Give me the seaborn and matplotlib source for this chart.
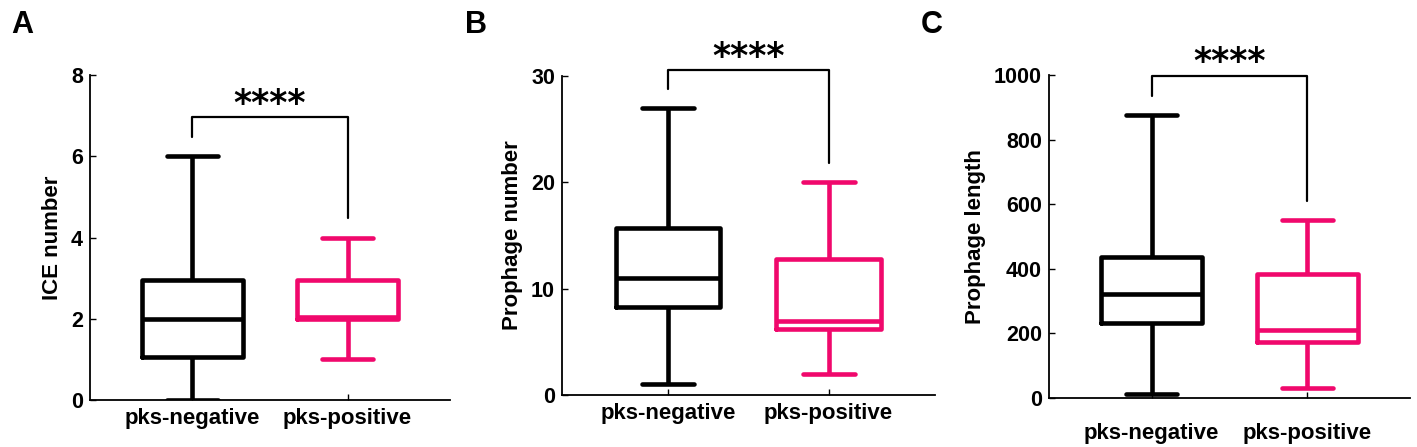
import pandas as pd
import seaborn as sns
import matplotlib.pyplot as plt

# five-number summaries (min, q1, median, q3, max)
groups = ["pks-negative", "pks-positive"]
ice_neg = [0, 1.05, 2.0, 2.95, 6]
ice_pos = [1, 2.0, 2.05, 2.95, 4]
pnum_neg = [1, 8.3, 11.0, 15.7, 27]
pnum_pos = [2, 6.2, 7.0, 12.8, 20]
plen_neg = [12, 232, 322, 436, 876]
plen_pos = [31, 173, 210, 384, 551]

ylabels = ["ICE number", "Prophage number", "Prophage length"]
yticks = [[0, 2, 4, 6, 8], [0, 10, 20, 30], [0, 200, 400, 600, 800, 1000]]
ylims = [(0, 8), (0, 30), (0, 1000)]
# bracket: height, left leg end, right leg end, stars y
brackets = [(6.97, 6.48, 4.48, 7.29), (30.6, 28.8, 21.8, 31.8), (997, 935, 610, 1040)]
letters = ["A", "B", "C"]

colors = {"pks-negative": "black", "pks-positive": "#F0086C"}


def make_df(neg, pos):
    return pd.DataFrame({"group": [groups[0]] * len(neg) + [groups[1]] * len(pos),
                         "value": neg + pos})


frames = [make_df(ice_neg, ice_pos), make_df(pnum_neg, pnum_pos), make_df(plen_neg, plen_pos)]

sns.set_style("ticks")
plt.rcParams["font.family"] = ["Liberation Sans", "DejaVu Sans"]
plt.rcParams["font.weight"] = "bold"
for k in ["text.color", "axes.labelcolor", "xtick.color", "ytick.color", "axes.edgecolor"]:
    plt.rcParams[k] = "black"

fig = plt.figure(figsize=(14.17, 4.47), dpi=100)
positions = [[0.0635, 0.105, 0.254, 0.727],
             [0.3966, 0.1163, 0.263, 0.7136],
             [0.7403, 0.1096, 0.2548, 0.7226]]
letter_x = [0.008, 0.328, 0.650]
xpads = [6, 6, 18]

for i in range(3):
    ax = fig.add_axes(positions[i])
    sns.boxplot(data=frames[i], x="group", y="value", hue="group", palette=colors,
                fill=False, whis=(0, 100), width=0.65, linewidth=3.3, legend=False, ax=ax)
    ax.set_xlim(-0.66, 1.66)
    ax.set_ylim(*ylims[i])
    ax.set_yticks(yticks[i])
    ax.set_xlabel("")
    ax.set_ylabel(ylabels[i], fontsize=16, fontweight="bold", labelpad=6)
    ax.tick_params(axis="y", direction="in", length=4, width=1, labelsize=15.5, pad=5)
    ax.tick_params(axis="x", direction="in", length=4, width=1, labelsize=16, pad=xpads[i])
    for lab in ax.get_xticklabels() + ax.get_yticklabels():
        lab.set_fontweight("bold")
    sns.despine(ax=ax)
    for s in ["left", "bottom"]:
        ax.spines[s].set_linewidth(1.3)

    top, lleg, rleg, sy = brackets[i]
    ax.plot([0, 0, 1, 1], [lleg, top, top, rleg], color="black", lw=1.6, clip_on=False)
    ax.text(0.5, sy, "****", ha="center", va="center", fontsize=25,
            fontweight="bold", family="DejaVu Sans", clip_on=False)

    fig.text(letter_x[i], 0.945, letters[i], fontsize=22, fontweight="bold",
             ha="left", va="center")

fig.savefig("out.png", dpi=100)
